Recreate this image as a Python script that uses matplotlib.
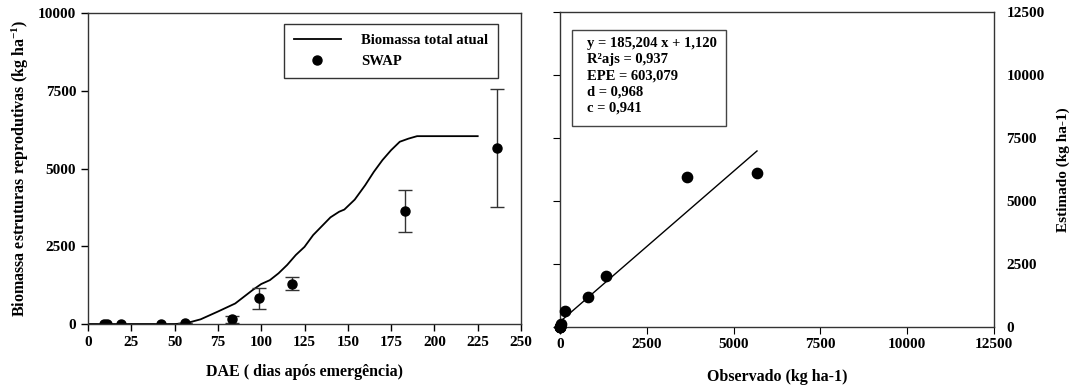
import numpy as np
import matplotlib
matplotlib.use('Agg')
import matplotlib.pyplot as plt
from matplotlib.patches import Rectangle
from matplotlib.lines import Line2D

plt.rcParams['font.family'] = ['Liberation Serif', 'DejaVu Serif']
plt.rcParams['font.weight'] = 'bold'
plt.rcParams['axes.labelweight'] = 'bold'
plt.rcParams['mathtext.fontset'] = 'custom'
plt.rcParams['mathtext.rm'] = 'Liberation Serif:bold'
plt.rcParams['mathtext.it'] = 'Liberation Serif:bold'
plt.rcParams['mathtext.bf'] = 'Liberation Serif:bold'

# simulated curve (DAE, biomass)
dae_sim = [0, 50, 56, 60, 65, 75, 85, 95, 100, 105, 110, 115, 120, 125, 130, 140, 145,
           148, 154, 160, 165, 170, 175, 180, 185, 190, 225]
bio_sim = [0, 0, 20, 75, 150, 400, 660, 1090, 1285, 1410, 1630, 1900, 2220, 2480, 2860,
           3430, 3610, 3680, 4000, 4460, 4890, 5270, 5590, 5860, 5960, 6040, 6040]

# observed points (SWAP)
dae_obs = [9, 11, 19, 42, 56, 83, 99, 118, 183, 236]
bio_obs = [0, 0, 0, 0, 20, 150, 820, 1300, 3640, 5660]
err_obs = [0, 0, 0, 0, 0, 110, 330, 215, 670, 1910]

# observed vs estimated
observado = [0, 0, 0, 0, 20, 153, 815, 1316, 3649, 5674]
estimado = [0, 0, 0, 0, 87, 616, 1184, 2020, 5930, 6090]
fit_intercept = 190
fit_slope = 1.196
stats_text = ['y = 185,204 x + 1,120', 'R²ajs = 0,937', 'EPE = 603,079',
              'd = 0,968', 'c = 0,941']

fig = plt.figure(figsize=(10.7, 3.87), dpi=100)
ax1 = fig.add_axes([88 / 1070, 1 - 324 / 387, 433 / 1070, 311 / 387])
ax2 = fig.add_axes([560 / 1070, 1 - 326.5 / 387, 434 / 1070, 314.5 / 387])

# left panel
ax1.plot(dae_sim, bio_sim, color='black', lw=1.3)
ax1.errorbar(dae_obs, bio_obs, yerr=err_obs, fmt='o', color='black', ecolor='#333333',
             elinewidth=1, capsize=5, capthick=1, markersize=6.5)
ax1.set_xlim(0, 250)
ax1.set_ylim(0, 10000)
ax1.set_xticks(np.arange(0, 251, 25))
ax1.set_yticks(np.arange(0, 10001, 2500))
ax1.tick_params(direction='out', length=5, labelsize=11, width=1)
ax1.set_xlabel('DAE ( dias após emergência)', fontsize=11.5, labelpad=11)
ax1.set_ylabel('Biomassa estruturas reprodutivas (kg ha$^{-1}$)', fontsize=11.5, labelpad=5)
handles = [Line2D([], [], color='black', lw=1.3),
           Line2D([], [], color='black', marker='o', ls='none', markersize=6.5)]
leg = ax1.legend(handles, ['Biomassa total atual', 'SWAP'], loc='upper right',
                 bbox_to_anchor=(0.948, 0.965), borderaxespad=0,
                 fancybox=False, edgecolor='black', fontsize=10.5, handlelength=3.2,
                 borderpad=0.7, labelspacing=0.5, handletextpad=1.4)
leg.get_frame().set_linewidth(1)

# right panel
ax2.scatter(observado, estimado, color='black', s=55, zorder=3, clip_on=False)
xs = np.array([0, max(observado)])
ax2.plot(xs, fit_intercept + fit_slope * xs, color='black', lw=1)
ax2.set_xlim(0, 12500)
ax2.set_ylim(0, 12500)
ax2.set_xticks(np.arange(0, 12501, 2500))
ax2.set_yticks(np.arange(0, 12501, 2500))
ax2.tick_params(axis='x', direction='out', length=5, labelsize=11)
ax2.tick_params(axis='y', left=True, right=False, labelleft=False, labelright=True,
                direction='out', length=5, labelsize=11, pad=4)
ax2.set_xlabel('Observado (kg ha-1)', fontsize=11.5, labelpad=13)
ax2.set_ylabel('Estimado (kg ha-1)', fontsize=11, rotation=90)
ax2.yaxis.set_label_position('right')
ax2.yaxis.set_label_coords(1.145, 0.5)
ax2.add_patch(Rectangle((0.028, 0.637), 0.354, 0.306, transform=ax2.transAxes,
                        fill=False, edgecolor='#444444', lw=1))
ax2.text(0.062, 0.92, '\n'.join(stats_text), transform=ax2.transAxes, va='top',
         ha='left', fontsize=10.5, linespacing=1.3)

for ax in (ax1, ax2):
    for s in ax.spines.values():
        s.set_linewidth(1)
        s.set_color('#333333')

fig.savefig('out.png', dpi=100)
